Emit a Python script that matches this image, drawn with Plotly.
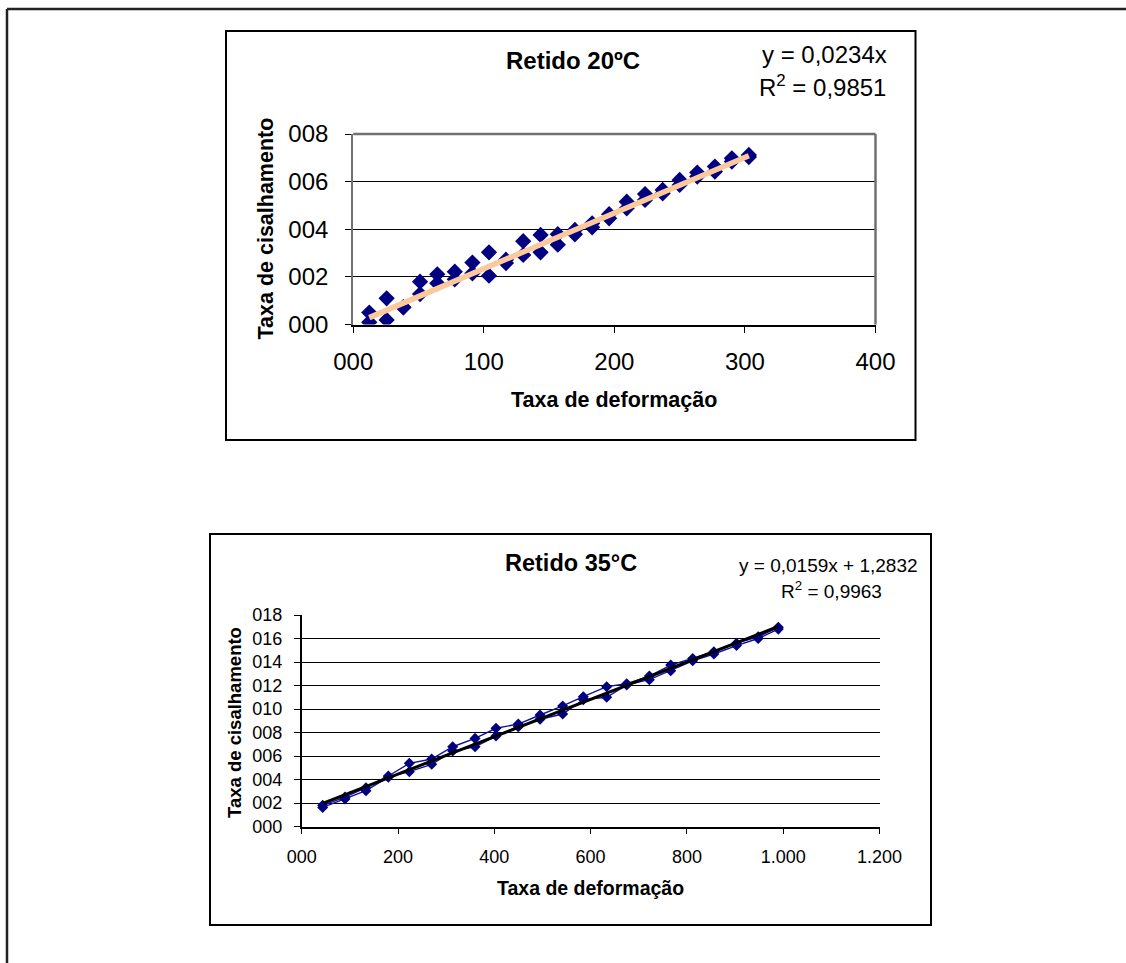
import plotly.graph_objects as go

W, H = 1126, 963
FONT = "Liberation Sans, Arial, sans-serif"

# ---------------- Data: chart 1 (Retido 20ºC) ----------------
x1 = [12.3, 25.6, 38.4, 51.2, 64.4, 77.8, 91.3, 104, 117, 130.2, 143.5, 156.7,
      169.8, 183, 196, 209.5, 223.5, 237, 250, 263.5, 277, 290, 303]
y1_up = [0.50, 1.10, 0.72, 1.80, 2.11, 2.22, 2.60, 3.03, 2.72, 3.50, 3.76, 3.79,
         3.97, 4.25, 4.63, 5.16, 5.48, 5.65, 6.07, 6.38, 6.63, 6.98, 7.12]
y1_down = [0.09, 0.19, 0.72, 1.28, 1.73, 1.90, 2.15, 2.05, 2.58, 2.92, 3.03, 3.35,
           3.79, 4.08, 4.46, 4.88, 5.23, 5.51, 5.86, 6.21, 6.42, 6.84, 7.03]
fit1_slope, fit1_intercept = 0.0234, 0.0
x1_ticks = [0, 100, 200, 300, 400]
x1_ticktext = ["000", "100", "200", "300", "400"]
y1_ticks = [0, 2, 4, 6, 8]
y1_ticktext = ["000", "002", "004", "006", "008"]

# ---------------- Data: chart 2 (Retido 35°C) ----------------
x2 = [43.6, 89.9, 133.5, 179.9, 223.5, 270, 313.6, 360, 403.5, 449.8, 495, 542,
      584.8, 633.4, 675, 722, 766.4, 812, 856, 903, 948, 989.8]
y2_up = [1.80, 2.50, 3.30, 4.30, 5.38, 5.74, 6.79, 7.50, 8.36, 8.72, 9.49, 10.26,
         11.05, 11.90, 12.15, 12.80, 13.74, 14.30, 14.88, 15.60, 16.15, 16.95]
y2_down = [1.62, 2.35, 3.05, 4.20, 4.67, 5.29, 6.42, 6.79, 7.70, 8.50, 9.12, 9.57,
           10.80, 11.00, 12.05, 12.50, 13.26, 14.10, 14.68, 15.40, 16.00, 16.80]
fit2_slope, fit2_intercept = 0.0159, 1.2832
x2_ticks = [0, 200, 400, 600, 800, 1000, 1200]
x2_ticktext = ["000", "200", "400", "600", "800", "1.000", "1.200"]
y2_ticks = [0, 2, 4, 6, 8, 10, 12, 14, 16, 18]
y2_ticktext = ["000", "002", "004", "006", "008", "010", "012", "014", "016", "018"]


def px(x):
    return x / W


def py(y):
    return 1 - y / H


NAVY = "#000080"
fig = go.Figure()

# chart 1 traces
fig.add_trace(go.Scatter(x=x1, y=y1_up, mode="markers", xaxis="x", yaxis="y",
                         marker=dict(symbol="diamond", size=12.5, color=NAVY)))
fig.add_trace(go.Scatter(x=x1, y=y1_down, mode="markers", xaxis="x", yaxis="y",
                         marker=dict(symbol="diamond", size=12.5, color=NAVY)))
fx1 = [x1[0], x1[-1]]
fig.add_trace(go.Scatter(x=fx1, y=[fit1_slope * v + fit1_intercept for v in fx1],
                         mode="lines", xaxis="x", yaxis="y",
                         line=dict(color="#FBC99A", width=5.5)))

# chart 2 traces
fig.add_trace(go.Scatter(x=x2, y=y2_up, mode="lines+markers", xaxis="x2", yaxis="y2",
                         line=dict(color="#1010A0", width=1.4),
                         marker=dict(symbol="diamond", size=8.5, color=NAVY)))
fig.add_trace(go.Scatter(x=x2, y=y2_down, mode="lines+markers", xaxis="x2", yaxis="y2",
                         line=dict(color="#1010A0", width=1.4),
                         marker=dict(symbol="diamond", size=8.5, color=NAVY)))
fx2 = [x2[0], x2[-1]]
fig.add_trace(go.Scatter(x=fx2, y=[fit2_slope * v + fit2_intercept for v in fx2],
                         mode="lines", xaxis="x2", yaxis="y2",
                         line=dict(color="black", width=3)))

# plot-area pixel geometry
c1 = dict(l=353.2, r=875.5, t=134.0, b=324.5)
c2 = dict(l=301.7, r=879.5, t=615.0, b=826.5)

axis_common = dict(showgrid=True, gridcolor="black", gridwidth=1, zeroline=False,
                   showline=True, linecolor="black", linewidth=1.5,
                   ticks="outside", tickcolor="black", tickmode="array",
                   fixedrange=True)

fig.update_layout(
    width=W, height=H, margin=dict(l=0, r=0, t=0, b=0, autoexpand=False),
    paper_bgcolor="white", plot_bgcolor="white", showlegend=False,
    font=dict(family=FONT, color="black"),
    xaxis=dict(axis_common, domain=[px(c1["l"]), px(c1["r"])], range=[0, 400],
               tickvals=x1_ticks, ticktext=x1_ticktext, showgrid=False,
               ticklen=7, tickfont=dict(size=24), ticklabelstandoff=8, anchor="y"),
    yaxis=dict(axis_common, domain=[py(c1["b"]), py(c1["t"])], range=[0, 8],
               tickvals=y1_ticks, ticktext=y1_ticktext, linecolor="#707070",
               linewidth=2, ticklen=6, tickfont=dict(size=24), ticklabelstandoff=12,
               anchor="x"),
    xaxis2=dict(axis_common, domain=[px(c2["l"]), px(c2["r"])], range=[0, 1200],
                tickvals=x2_ticks, ticktext=x2_ticktext, showgrid=False,
                ticklen=6, tickfont=dict(size=18), ticklabelstandoff=7, anchor="y2"),
    yaxis2=dict(axis_common, domain=[py(c2["b"]), py(c2["t"])], range=[0, 18],
                tickvals=y2_ticks, ticktext=y2_ticktext,
                ticklen=6, tickfont=dict(size=18), ticklabelstandoff=8, anchor="x2"),
)

shapes = []
# page border (top and left)
shapes.append(dict(type="line", xref="paper", yref="paper", x0=px(7), x1=1,
                   y0=py(9), y1=py(9), line=dict(color="#222", width=2.5)))
shapes.append(dict(type="line", xref="paper", yref="paper", x0=px(7), x1=px(7),
                   y0=py(9), y1=0, line=dict(color="#222", width=2.5)))
# chart boxes
shapes.append(dict(type="rect", xref="paper", yref="paper", x0=px(226), x1=px(915.5),
                   y0=py(440), y1=py(31), line=dict(color="black", width=2)))
shapes.append(dict(type="rect", xref="paper", yref="paper", x0=px(210), x1=px(931),
                   y0=py(925), y1=py(534), line=dict(color="black", width=2)))
# chart 1 plot-area border (gray, top/right)
shapes.append(dict(type="line", xref="paper", yref="paper", x0=px(c1["l"]), x1=px(c1["r"]),
                   y0=py(c1["t"]), y1=py(c1["t"]), line=dict(color="#707070", width=2.5)))
shapes.append(dict(type="line", xref="paper", yref="paper", x0=px(c1["r"]), x1=px(c1["r"]),
                   y0=py(c1["t"]), y1=py(c1["b"]), line=dict(color="#707070", width=2.5)))
fig.update_layout(shapes=shapes)


def ann(text, x, y, size, bold=False, angle=0):
    t = f"<b>{text}</b>" if bold else text
    return dict(text=t, x=px(x), y=py(y), xref="paper", yref="paper",
                xanchor="center", yanchor="middle", showarrow=False,
                textangle=angle, font=dict(family=FONT, size=size, color="black"))


annotations = [
    ann("Retido 20ºC", 573, 61, 24, bold=True),
    ann("y = 0,0234x", 824, 55, 24),
    ann("R<sup>2</sup> = 0,9851", 822, 86, 24),
    ann("Taxa de cisalhamento", 265, 228.5, 21.5, bold=True, angle=-90),
    ann("Taxa de deformação", 613.5, 400, 21.5, bold=True),
    ann("Retido 35°C", 571, 563, 23.5, bold=True),
    ann("y = 0,0159x + 1,2832", 828, 565, 19),
    ann("R<sup>2</sup> = 0,9963", 831, 590, 19),
    ann("Taxa de cisalhamento", 234, 723, 18.5, bold=True, angle=-90),
    ann("Taxa de deformação", 590.5, 888, 19.5, bold=True),
]
fig.update_layout(annotations=annotations)

fig.write_html("out.html")
